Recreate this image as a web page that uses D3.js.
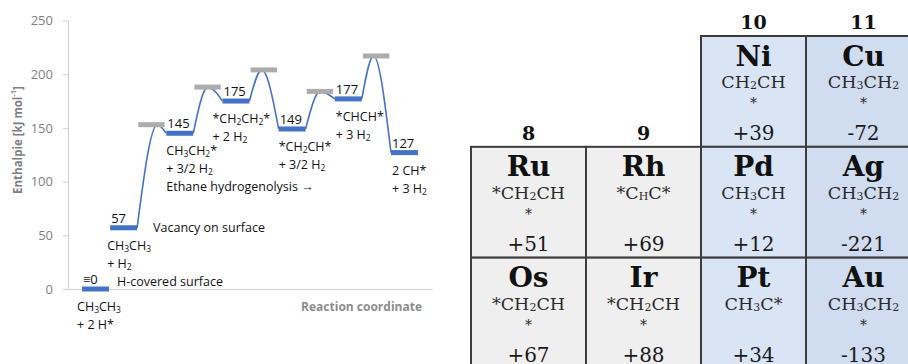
<!DOCTYPE html>
<html lang="en">
<head>
    <meta charset="UTF-8">
    <style>
        html, body { margin:0; height:100%; overflow:hidden; background:#fff; }
        svg { position:absolute; top:0; left:0; }
    </style>
    <script src="https://d3js.org/d3.v7.min.js"></script>
</head>
<body>
<svg width="908" height="364"></svg>
<script>
    // energy profile (kJ/mol), steps along the reaction coordinate
    var levelNames = ["\u22610", "57", "145", "175", "149", "177", "127"];
    var levelEnergy = [0, 57, 145, 175, 149, 177, 127];
    var levelStep = [0, 0.5, 1.5, 2.5, 3.5, 4.5, 5.5];
    var speciesTop = ["CH_3CH_3", "CH_3CH_3", "CH_3CH_2*", "*CH_2CH_2*", "*CH_2CH*", "*CHCH*", "2 CH*"];
    var speciesBottom = ["+ 2 H*", "+ H_2", "+ 3/2 H_2", "+ 2 H_2", "+ 3/2 H_2", "+ 3 H_2", "+ 3 H_2"];
    var tsEnergy = [153, 188, 204, 184, 217];
    var tsStep = [1, 2, 3, 4, 5];
    var tsPeak = [1.34, 2.24, 3.2, 4.24, 5.19];
    var yTicks = [0, 50, 100, 150, 200, 250];
    var notes = ["H-covered surface", "Vacancy on surface", "Ethane hydrogenolysis \u2192"];

    // periodic table block
    var groups = ["8", "9", "10", "11"];
    var symbols = [[null, null, "Ni", "Cu"], ["Ru", "Rh", "Pd", "Ag"], ["Os", "Ir", "Pt", "Au"]];
    var formulas = [[null, null, "CH_2CH", "CH_3CH_2"], ["*CH_2CH", "*C_HC*", "CH_3CH", "CH_3CH_2"], ["*CH_2CH", "*CH_2CH", "CH_3C*", "CH_3CH_2"]];
    var stars = [[null, null, "*", "*"], ["*", "", "*", "*"], ["*", "*", "", "*"]];
    var values = [[null, null, "+39", "-72"], ["+51", "+69", "+12", "-221"], ["+67", "+88", "+34", "-133"]];

    var svg = d3.select("svg");
    var blue = "#4472c4";

    // write a label where "_x" is a subscript x
    function rich(sel, str, subSize, subDrop) {
        var parts = str.split(/(_.)/);
        var down = false;
        parts.forEach(function (p) {
            if (!p) return;
            if (p[0] === "_") {
                sel.append("tspan").attr("font-size", subSize).attr("dy", subDrop).text(p[1]);
                down = true;
            } else {
                var t = sel.append("tspan").text(p);
                if (down) { t.attr("dy", -subDrop); down = false; }
            }
        });
    }

    // ---------- left chart ----------
    var x = d3.scaleLinear().domain([-0.25, 6.23]).range([68, 432]);
    var y = d3.scaleLinear().domain([0, 250]).range([289, 20.5]);
    var barW = 0.48;

    var yAxis = svg.append("g")
        .attr("transform", "translate(68,0)")
        .call(d3.axisLeft(y).tickValues(yTicks).tickSize(5).tickSizeOuter(0).tickPadding(10));
    yAxis.select(".domain").attr("stroke", "#d0d0d0");
    yAxis.selectAll(".tick line").attr("stroke", "#d0d0d0");
    yAxis.selectAll(".tick text").attr("fill", "#7f7f7f")
        .style("font-family", "Open Sans").style("font-size", "13px");

    var xAxis = svg.append("g")
        .attr("transform", "translate(0," + y(0) + ")")
        .call(d3.axisBottom(x).tickValues([]).tickSizeOuter(0));
    xAxis.select(".domain").attr("stroke", "#d0d0d0");

    svg.append("text")
        .attr("x", 422).attr("y", 306)
        .attr("text-anchor", "end").attr("dominant-baseline", "central")
        .attr("fill", "#8c8c8c").style("font-family", "Open Sans")
        .style("font-size", "12px").style("font-weight", "bold")
        .text("Reaction coordinate");

    var yt = svg.append("text")
        .attr("transform", "translate(17,140) rotate(-90)")
        .attr("text-anchor", "middle").attr("dominant-baseline", "central")
        .attr("fill", "#7f7f7f").style("font-family", "Open Sans")
        .style("font-size", "11.5px").style("font-weight", "bold");
    yt.append("tspan").text("Enthalpie [kJ mol");
    yt.append("tspan").attr("font-size", "7.5px").attr("dy", -4).text("-1");
    yt.append("tspan").attr("dy", 4).text("]");

    // connecting curves through transition states
    var line = d3.line()
        .x(function (d) { return x(d[0]); })
        .y(function (d) { return y(d[1]); })
        .curve(d3.curveMonotoneX);

    tsEnergy.forEach(function (e, i) {
        var pts = [
            [levelStep[i + 1] + barW, levelEnergy[i + 1]],
            [tsPeak[i], e],
            [levelStep[i + 2], levelEnergy[i + 2]]
        ];
        svg.append("path")
            .attr("d", line(pts))
            .attr("fill", "none")
            .attr("stroke", blue)
            .attr("stroke-width", 1.6);
    });

    // transition state bars
    svg.selectAll(".ts")
        .data(tsEnergy)
        .enter().append("line")
        .attr("class", "ts")
        .attr("x1", function (d, i) { return x(tsStep[i]); })
        .attr("x2", function (d, i) { return x(tsStep[i] + 0.47); })
        .attr("y1", function (d) { return y(d); })
        .attr("y2", function (d) { return y(d); })
        .attr("stroke", "#acacac")
        .attr("stroke-width", 5);

    // intermediate levels
    svg.selectAll(".lvl")
        .data(levelEnergy)
        .enter().append("line")
        .attr("class", "lvl")
        .attr("x1", function (d, i) { return x(levelStep[i]); })
        .attr("x2", function (d, i) { return x(levelStep[i] + barW); })
        .attr("y1", function (d) { return y(d); })
        .attr("y2", function (d) { return y(d); })
        .attr("stroke", blue)
        .attr("stroke-width", 5);

    var labelFont = "Open Sans";
    var nudge = [-5, -3, 0, -10, 0, 1, 1];

    levelEnergy.forEach(function (e, i) {
        var lx = x(levelStep[i]);
        var ly = y(e);
        svg.append("text")
            .attr("x", lx + 1).attr("y", ly - 10)
            .attr("dominant-baseline", "central")
            .style("font-family", labelFont).style("font-size", "13px")
            .attr("fill", "#111")
            .text(levelNames[i]);

        var t1 = svg.append("text")
            .attr("x", lx + nudge[i]).attr("y", ly + 17)
            .attr("dominant-baseline", "central")
            .style("font-family", labelFont).style("font-size", "12.5px")
            .attr("fill", "#111");
        rich(t1, speciesTop[i], "8.5px", 3);

        var t2 = svg.append("text")
            .attr("x", lx + nudge[i]).attr("y", ly + 35)
            .attr("dominant-baseline", "central")
            .style("font-family", labelFont).style("font-size", "12.5px")
            .attr("fill", "#111");
        rich(t2, speciesBottom[i], "8.5px", 3);
    });

    // side notes
    svg.append("text")
        .attr("x", x(levelStep[0] + barW) + 8).attr("y", y(levelEnergy[0]) - 8)
        .attr("dominant-baseline", "central")
        .style("font-family", labelFont).style("font-size", "12.5px").attr("fill", "#111")
        .text(notes[0]);
    svg.append("text")
        .attr("x", x(levelStep[1] + barW) + 16).attr("y", y(levelEnergy[1]))
        .attr("dominant-baseline", "central")
        .style("font-family", labelFont).style("font-size", "12.5px").attr("fill", "#111")
        .text(notes[1]);
    svg.append("text")
        .attr("x", x(levelStep[2])).attr("y", y(levelEnergy[2]) + 53)
        .attr("dominant-baseline", "central")
        .style("font-family", labelFont).style("font-size", "12.5px").attr("fill", "#111")
        .text(notes[2]);

    // ---------- right table ----------
    var colWidths = [115, 115, 105, 115];
    var colEdges = [471].concat(Array.from(d3.cumsum(colWidths), function (w) { return 471 + w; }));
    function colX(c) { return colEdges[c]; }
    function colW(c) { return colWidths[c]; }
    var row = d3.scaleBand().domain(d3.range(3)).range([36, 368.5]);
    var serif = "DejaVu Serif";
    var fills = ["#efefef", "#efefef", "#d9e5f5", "#d0ddf0"];

    var cells = [];
    symbols.forEach(function (r, ri) {
        r.forEach(function (s, ci) {
            if (s) cells.push({ r: ri, c: ci });
        });
    });

    var table = svg.append("g");

    table.selectAll("rect")
        .data(cells)
        .enter().append("rect")
        .attr("x", function (d) { return colX(d.c); })
        .attr("y", function (d) { return row(d.r); })
        .attr("width", function (d) { return colW(d.c); })
        .attr("height", row.bandwidth())
        .attr("fill", function (d) { return fills[d.c]; })
        .attr("stroke", "#3c3c3c")
        .attr("stroke-width", 2);

    // group numbers sit above the first cell in each column
    groups.forEach(function (g, ci) {
        var firstRow = symbols.findIndex(function (r) { return r[ci]; });
        table.append("text")
            .attr("x", colX(ci) + colW(ci) / 2)
            .attr("y", row(firstRow) - 14)
            .attr("text-anchor", "middle").attr("dominant-baseline", "central")
            .style("font-family", serif).style("font-size", "19px").style("font-weight", "bold")
            .attr("fill", "#111")
            .text(g);
    });

    cells.forEach(function (d) {
        var cx = colX(d.c) + colW(d.c) / 2;
        var top = row(d.r);
        table.append("text")
            .attr("x", cx).attr("y", top + 20)
            .attr("text-anchor", "middle").attr("dominant-baseline", "central")
            .style("font-family", serif).style("font-size", "28px").style("font-weight", "bold")
            .attr("fill", "#111")
            .text(symbols[d.r][d.c]);

        var f = table.append("text")
            .attr("x", cx).attr("y", top + 46)
            .attr("text-anchor", "middle").attr("dominant-baseline", "central")
            .style("font-family", serif).style("font-size", "17.5px")
            .attr("fill", "#2a2a2a");
        rich(f, formulas[d.r][d.c], "11px", 3);

        table.append("text")
            .attr("x", cx).attr("y", top + 67)
            .attr("text-anchor", "middle").attr("dominant-baseline", "central")
            .style("font-family", serif).style("font-size", "14px")
            .attr("fill", "#2a2a2a")
            .text(stars[d.r][d.c]);

        table.append("text")
            .attr("x", cx).attr("y", top + 97)
            .attr("text-anchor", "middle").attr("dominant-baseline", "central")
            .style("font-family", serif).style("font-size", "20px")
            .attr("fill", "#1a1a1a")
            .text(values[d.r][d.c]);
    });
</script>
</body>
</html>
